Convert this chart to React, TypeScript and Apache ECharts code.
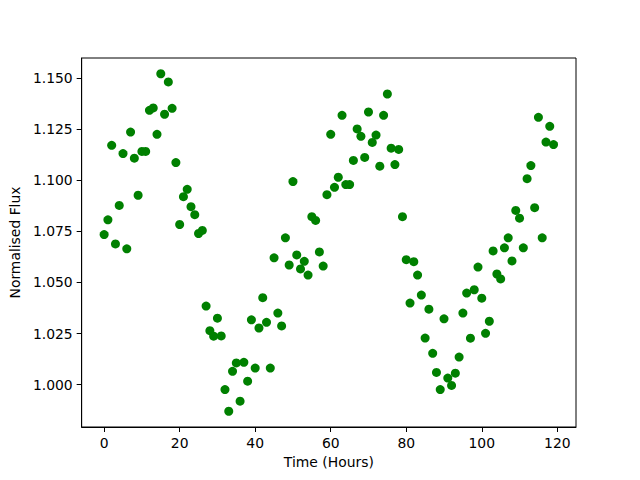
import React, { useEffect, useRef } from "react";
import * as echarts from "echarts";

const hours: number[] = Array.from({ length: 120 }, (_, i) => i);
const flux: number[] = [
  1.0734, 1.0806, 1.117, 1.0688, 1.0876, 1.113, 1.0664, 1.1235, 1.1107, 1.0926,
  1.114, 1.114, 1.1341, 1.1353, 1.1224, 1.152, 1.1322, 1.148, 1.1351, 1.1086,
  1.0783, 1.0919, 1.0955, 1.087, 1.0831, 1.0739, 1.0754, 1.0384, 1.0264, 1.0237,
  1.0325, 1.0238, 0.9976, 0.987, 1.0065, 1.0106, 0.9919, 1.0109, 1.0017, 1.0317,
  1.0081, 1.0277, 1.0425, 1.0305, 1.0081, 1.062, 1.035, 1.0287, 1.0718, 1.0585,
  1.0993, 1.0634, 1.0566, 1.0603, 1.0536, 1.0821, 1.0803, 1.0649, 1.058, 1.0929,
  1.1224, 1.0965, 1.1014, 1.1317, 1.0978, 1.0978, 1.1096, 1.125, 1.1214, 1.1111,
  1.1333, 1.1184, 1.122, 1.1068, 1.1317, 1.1421, 1.1156, 1.1076, 1.115, 1.0821,
  1.0611, 1.0399, 1.0601, 1.0536, 1.0438, 1.0228, 1.0369, 1.0153, 1.006, 0.9976,
  1.0322, 1.0032, 0.9996, 1.0056, 1.0135, 1.035, 1.0448, 1.0227, 1.0464, 1.0575,
  1.0423, 1.0251, 1.031, 1.0654, 1.0541, 1.0517, 1.0669, 1.0718, 1.0605, 1.0852,
  1.0814, 1.0669, 1.1007, 1.1071, 1.0865, 1.1307, 1.0718, 1.1186, 1.1263, 1.1174,
];
const xTicks: number[] = [0, 20, 40, 60, 80, 100, 120];
const yTicks: number[] = [1.0, 1.025, 1.05, 1.075, 1.1, 1.125, 1.15];

export default function App() {
  const ref = useRef<HTMLDivElement>(null);
  useEffect(() => {
    if (!ref.current) return;
    const chart = echarts.init(ref.current, undefined, { renderer: "svg" });
    const font = "DejaVu Sans";
    chart.setOption({
      animation: false,
      backgroundColor: "#ffffff",
      grid: {
        left: 80,
        right: 64,
        top: 58,
        bottom: 53,
        show: true,
        borderColor: "#000",
        borderWidth: 1,
        backgroundColor: "transparent",
      },
      xAxis: {
        type: "value",
        min: -5.95,
        max: 124.95,
        name: "Time (Hours)",
        nameLocation: "middle",
        nameGap: 28,
        nameTextStyle: { fontFamily: font, fontSize: 13.9, color: "#000" },
        axisLine: { show: true, onZero: false, lineStyle: { color: "#000", width: 1 } },
        axisTick: { show: true, length: 5, customValues: xTicks, lineStyle: { color: "#000" } },
        axisLabel: {
          customValues: xTicks,
          margin: 9,
          fontFamily: font,
          fontSize: 13.9,
          color: "#000",
        },
        splitLine: { show: false },
      },
      yAxis: {
        type: "value",
        min: 0.9793,
        max: 1.1597,
        name: "Normalised Flux",
        nameLocation: "middle",
        nameGap: 56,
        nameTextStyle: { fontFamily: font, fontSize: 13.9, color: "#000" },
        axisLine: { show: true, onZero: false, lineStyle: { color: "#000", width: 1 } },
        axisTick: { show: true, length: 5, customValues: yTicks, lineStyle: { color: "#000" } },
        axisLabel: {
          customValues: yTicks,
          margin: 9,
          fontFamily: font,
          fontSize: 13.9,
          color: "#000",
          formatter: (v: number) => v.toFixed(3),
        },
        splitLine: { show: false },
      },
      series: [
        {
          type: "scatter",
          data: hours.map((h, i) => [h, flux[i]]),
          symbol: "circle",
          symbolSize: 9,
          itemStyle: { color: "#008000", opacity: 1 },
        },
      ],
    });
    return () => chart.dispose();
  }, []);
  return (
    <div
      ref={ref}
      style={{ position: "absolute", left: 0, top: 0, width: 640, height: 480 }}
    />
  );
}
